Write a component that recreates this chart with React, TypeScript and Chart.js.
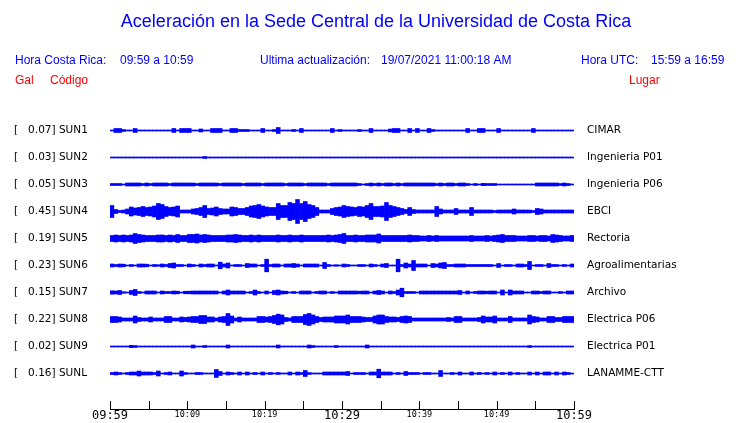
import { useEffect, useRef } from 'react';
import { Chart, registerables } from 'chart.js';

Chart.register(...registerables);

// ---- labels ----
const codes = ['SUN1', 'SUN2', 'SUN3', 'SUN4', 'SUN5', 'SUN6', 'SUN7', 'SUN8', 'SUN9', 'SUNL'];
const peaks = ['0.07', '0.03', '0.05', '0.45', '0.19', '0.23', '0.15', '0.22', '0.02', '0.16'];
const places = ['CIMAR', 'Ingenieria P01', 'Ingenieria P06', 'EBCI', 'Rectoria', 'Agroalimentarias', 'Archivo', 'Electrica P06', 'Electrica P01', 'LANAMME-CTT'];
const timeTicks = ['09:59', '', '10:09', '', '10:19', '', '10:29', '', '10:39', '', '10:49', '', '10:59'];
const titleText = 'Aceleración en la Sede Central de la Universidad de Costa Rica';
const localLabel = 'Hora Costa Rica:';
const localRange = '09:59 a 10:59';
const updateLabel = 'Ultima actualización:';
const updateValue = '19/07/2021 11:00:18 AM';
const utcLabel = 'Hora UTC:';
const utcRange = '15:59 a 16:59';

// minutes per envelope sample
const BIN_MIN = 0.5;

// ---- trace envelopes (half amplitude, display units), 120 samples = 60 min ----
const sun1 = [
  0.5, 2, 2, 1, 0.5, 0.5, 2, 0.5, 0.5, 0.5,
  0.5, 0.5, 0.5, 0.5, 0.5, 0.5, 2, 0.5, 2, 2,
  2, 0.5, 0.5, 1.5, 0.5, 0.5, 2, 2, 2, 0.5,
  0.5, 2, 2, 1, 1, 1, 0.5, 0.5, 0.5, 2,
  0.5, 0.5, 1, 3, 0.5, 0.5, 0.5, 1, 0.5, 2,
  0.5, 0.5, 0.5, 0.5, 0.5, 0.5, 0.5, 2, 0.5, 1,
  0.5, 0.5, 0.5, 0.5, 1, 0.5, 0.5, 2, 0.5, 0.5,
  0.5, 0.5, 1.5, 2, 2, 0.5, 0.5, 2, 0.5, 2,
  0.5, 0.5, 2, 1, 0.5, 0.5, 0.5, 0.5, 0.5, 0.5,
  0.5, 0.5, 2, 0.5, 0.5, 2, 2, 0.5, 0.5, 0.5,
  2, 0.5, 0.5, 0.5, 0.5, 0.5, 0.5, 0.5, 0.5, 2,
  0.5, 0.5, 0.5, 0.5, 0.5, 0.5, 0.5, 0.5, 0.5, 0.5,
];
const sun2 = [
  0.5, 0.5, 0.5, 0.5, 0.5, 0.5, 0.5, 0.5, 0.5, 0.5,
  0.5, 0.5, 0.5, 0.5, 0.5, 0.5, 0.5, 0.5, 0.5, 0.5,
  0.5, 0.5, 0.5, 0.5, 1, 0.5, 0.5, 0.5, 0.5, 0.5,
  0.5, 0.5, 0.5, 0.5, 0.5, 0.5, 0.5, 0.5, 0.5, 0.5,
  0.5, 0.5, 0.5, 0.5, 0.5, 0.5, 0.5, 0.5, 0.5, 0.5,
  0.5, 0.5, 0.5, 0.5, 0.5, 0.5, 0.5, 0.5, 0.5, 0.5,
  0.5, 0.5, 0.5, 0.5, 0.5, 0.5, 0.5, 0.5, 0.5, 0.5,
  0.5, 0.5, 0.5, 0.5, 0.5, 0.5, 0.5, 0.5, 0.5, 0.5,
  0.5, 0.5, 0.5, 0.5, 0.5, 0.5, 0.5, 0.5, 0.5, 0.5,
  0.5, 0.5, 0.5, 0.5, 0.5, 0.5, 0.5, 0.5, 0.5, 0.5,
  0.5, 0.5, 0.5, 0.5, 0.5, 0.5, 0.5, 0.5, 0.5, 0.5,
  0.5, 0.5, 0.5, 0.5, 0.5, 0.5, 0.5, 0.5, 0.5, 0.5,
];
const sun3 = [
  1, 1, 1, 0.5, 1.5, 1.5, 1.5, 1.5, 1, 1.5,
  1, 1.5, 1.5, 1.5, 1.5, 1, 1.5, 1.5, 1.5, 1.5,
  1.5, 1.5, 1, 1.5, 1.5, 1.5, 1.5, 1.5, 1, 1.5,
  1.5, 1.5, 1.5, 1.5, 1, 1.5, 1.5, 1.5, 1.5, 1,
  1.5, 1.5, 1.5, 1.5, 1.5, 1, 1.5, 1.5, 1.5, 1.5,
  1, 1.5, 1.5, 1.5, 1.5, 1.5, 1, 1.5, 1.5, 1.5,
  1.5, 1.5, 1.5, 1.5, 1, 0.5, 1, 1.5, 1, 1.5,
  1, 1.5, 1.5, 1, 1.5, 1, 1.5, 1.5, 1.5, 1.5,
  1.5, 1.5, 1.5, 1.5, 1, 1.5, 1, 1.5, 1.5, 1,
  1.5, 1.5, 1, 0.5, 1, 0.5, 1.2, 1, 1, 1,
  0.5, 0.5, 0.5, 0.5, 0.5, 0.5, 0.5, 0.5, 0.5, 0.5,
  1.5, 1.5, 1.5, 1.5, 1.5, 1.5, 1, 1.5, 1, 0.5,
];
const sun4 = [
  6, 2, 1, 1.5, 2.5, 4.5, 3.5, 4, 5, 4,
  4.5, 5.5, 8, 7, 5, 4, 4.5, 5.5, 1.5, 1.5,
  1.5, 2.5, 3, 4, 6, 3, 3.5, 4.5, 3, 2.5,
  2.5, 4.5, 4, 3, 3, 4, 5.5, 6, 7, 5.5,
  4.5, 4, 4, 8, 6, 6, 9, 8, 12, 8,
  10, 7, 6, 4, 1.5, 1.5, 1.5, 3, 4, 4.5,
  6, 5, 4.5, 4, 5, 4.5, 6, 8, 5, 5,
  5.5, 9, 6, 5, 4, 3, 2, 4, 2, 1.5,
  1.5, 1.5, 1.5, 1.5, 5, 2.5, 1.5, 1.5, 1.5, 3,
  1.5, 1.5, 1.5, 4, 1.5, 1.5, 1.5, 1.5, 1.5, 1,
  1.5, 1.5, 1.5, 1.5, 2.5, 1.5, 1.5, 1.5, 1.5, 1,
  3, 2.5, 1.5, 1.5, 1.5, 1.5, 1.5, 1.5, 1.5, 1.5,
];
const sun5 = [
  3, 3.5, 3, 3.5, 3, 3.5, 5, 4, 3.5, 3,
  3, 3, 3.5, 3.5, 3, 3.5, 3, 4, 3, 3,
  4, 4, 4.5, 3.5, 4, 3.5, 3, 3, 3, 3,
  3.5, 3.5, 4, 3.5, 3, 3, 3.5, 3, 3.5, 3,
  3, 3, 3, 3.5, 3, 3, 3.5, 3, 3, 3.5,
  3, 3, 3, 3, 3, 3, 3.5, 3, 3.5, 4,
  5, 3, 3, 3.5, 3, 3, 3.5, 3.5, 3.5, 4.5,
  3, 3, 3, 3, 3, 3, 3, 3.5, 3, 3,
  2.5, 2.5, 3, 2.5, 3, 2.5, 2.5, 2.5, 2.5, 2.5,
  2.5, 2.5, 2.5, 3, 2.5, 2.5, 2.5, 3, 2.5, 3,
  3.5, 4, 3, 3, 3, 2.5, 2.5, 2.5, 3, 3,
  2.5, 3, 3, 2.5, 4, 3.5, 3, 2.5, 2.5, 3,
];
const sun6 = [
  1.5, 1, 1.5, 1.3, 0.5, 1, 0.5, 1.5, 1.5, 1.3,
  0.5, 1, 0.8, 1.5, 1, 2, 2.5, 1, 1, 0.5,
  1.5, 1, 0.5, 1.5, 1, 1.5, 1.5, 0.5, 3.3, 1.5,
  2.5, 0.5, 1, 1, 0.5, 2, 1.5, 1.5, 0.5, 1,
  6.3, 1, 1.5, 1.5, 0.5, 1.5, 1.5, 2, 1.5, 0.5,
  1.5, 1.5, 1.5, 1.5, 0.5, 3, 1, 0.5, 0.8, 0.5,
  1.5, 1, 0.5, 0.5, 1, 1, 0.5, 1.5, 1, 0.5,
  1.5, 2, 0.5, 0.5, 6.3, 1, 2.5, 1.5, 5, 1.5,
  1.5, 1.5, 0.5, 2, 1.5, 2.5, 3, 1, 1, 1.5,
  1.5, 1.5, 1, 1, 1, 1, 1, 1, 1, 0.5,
  2, 0.5, 1, 1, 0.5, 1.5, 1.5, 1, 4, 0.5,
  1, 1, 0.5, 2, 1, 1, 0.5, 1, 0.5, 1.5,
];
const sun7 = [
  1.7, 1.5, 2, 0.8, 0.5, 2, 3, 1, 0.5, 1.5,
  1.5, 1.5, 0.5, 1.5, 1, 1, 1.5, 1.3, 0.5, 1.3,
  1.3, 1.5, 1.5, 1.5, 1.5, 1.5, 1.5, 1.5, 0.5, 1.5,
  2.5, 1.5, 1.5, 1.5, 1.5, 0.5, 1, 2.5, 1, 0.5,
  1.5, 0.5, 2, 2.5, 1.5, 1.3, 0.5, 1, 0.5, 1.5,
  1.5, 1.5, 0.5, 1, 1.5, 1.5, 0.5, 1, 0.5, 1.5,
  1.5, 1.5, 1.5, 1.5, 1.3, 1.5, 1.5, 0.5, 1.5, 2,
  1.5, 0.5, 1.5, 1, 2.5, 4.3, 1, 1, 1, 0.5,
  1.5, 1.5, 1.5, 1.5, 1.5, 1.5, 1.5, 1.5, 1.5, 1.5,
  2, 0.5, 1.5, 0.5, 1, 1.5, 1.5, 1.3, 1.5, 1.5,
  0.5, 2.5, 0.5, 2.5, 1.5, 1.5, 1.5, 0.5, 0.5, 1.5,
  1.5, 1, 1.5, 1.5, 0.5, 0.5, 1, 0.5, 1.5, 1.5,
];
const sun8 = [
  3, 3, 2.5, 1.5, 1.5, 1.5, 3.5, 2, 1.5, 1.5,
  2.5, 1.5, 1.5, 1.5, 3, 3, 1.5, 1.5, 2.5, 2,
  2.5, 3, 3, 4, 4, 2.5, 2.5, 1.5, 2.5, 3,
  6, 3.5, 1.5, 2.5, 1.5, 1.5, 1.5, 1.5, 3, 3,
  2.5, 3, 4, 5.3, 4.5, 2, 1.5, 3, 3, 3,
  5, 6, 4.5, 3, 2, 2.5, 2.5, 2.5, 3.5, 3.5,
  3.5, 4.5, 3, 3, 3, 2.5, 2, 2, 3.5, 4.5,
  4.5, 3, 2.5, 2.5, 2, 3, 3.5, 3, 1.5, 1.5,
  1.5, 1.5, 1.5, 1.5, 1.5, 1.5, 1.5, 2, 1.5, 3,
  3, 1.5, 1.5, 1.5, 1.5, 2, 3.5, 2.5, 2.5, 3.5,
  1.5, 1.5, 1.5, 3, 1.5, 1.5, 1.5, 1.5, 4.5, 3,
  2.5, 1.5, 1.5, 3, 3, 2, 2, 3, 3, 3,
];
const sun9 = [
  0.5, 0.5, 0.5, 0.5, 0.5, 1.2, 1, 0.5, 0.5, 0.5,
  0.5, 0.5, 0.5, 0.5, 0.5, 0.5, 0.5, 0.5, 0.5, 0.5,
  0.5, 1.5, 0.5, 0.5, 1, 0.5, 0.5, 0.5, 0.5, 0.5,
  1.5, 0.5, 0.5, 0.5, 0.5, 0.5, 0.5, 0.5, 0.5, 0.5,
  0.5, 0.5, 0.5, 1.5, 0.5, 0.5, 0.5, 0.5, 0.5, 0.5,
  0.5, 1.5, 1, 0.5, 0.5, 0.5, 0.5, 0.5, 1, 0.5,
  0.5, 0.5, 0.5, 0.5, 0.5, 0.5, 1.5, 0.5, 0.5, 0.5,
  0.5, 0.5, 0.5, 0.5, 0.5, 0.5, 0.5, 0.5, 0.5, 0.5,
  0.5, 0.5, 0.5, 0.5, 0.5, 0.5, 0.5, 0.5, 0.5, 0.5,
  0.5, 0.5, 0.5, 0.5, 0.5, 0.5, 0.5, 0.5, 0.5, 0.5,
  0.5, 0.5, 0.5, 0.5, 0.5, 0.5, 0.5, 0.5, 1, 0.5,
  0.5, 0.5, 0.5, 0.5, 0.5, 0.5, 0.5, 0.5, 0.5, 0.5,
];
const sunL = [
  1, 1.5, 1, 0.5, 1, 1.5, 1.5, 2.5, 1.5, 1.5,
  1.5, 1, 2.5, 0.5, 1, 1.5, 0.5, 0.5, 2.5, 1,
  0.5, 0.5, 1, 1, 0.5, 0.5, 0.5, 4, 2, 0.5,
  1.5, 1, 0.5, 1.5, 0.5, 1.5, 0.5, 1, 0.5, 1.5,
  0.5, 1, 0.5, 1, 0.5, 0.5, 1.5, 0.5, 1.5, 1,
  3, 1, 0.5, 0.5, 0.5, 1.5, 1.5, 1.5, 1.5, 1.5,
  1.5, 2, 0.5, 1, 1, 1, 0.5, 1.5, 1.5, 4.3,
  1.5, 1.5, 1.5, 0.5, 1, 0.5, 2, 1, 1, 1,
  0.5, 1, 1, 0.5, 0.5, 3, 0.5, 0.5, 1, 0.5,
  1.5, 0.5, 0.5, 1.5, 0.5, 1, 0.5, 1, 0.5, 1.5,
  0.5, 1, 0.5, 1.5, 0.5, 1, 0.5, 0.5, 1.5, 0.5,
  1.5, 0.5, 1.5, 1.5, 0.5, 1.5, 0.5, 1.5, 1, 0.5,
];
const traces = [sun1, sun2, sun3, sun4, sun5, sun6, sun7, sun8, sun9, sunL];

// ---- layout constants (pixels) ----
const W = 740;
const H = 423;
const AREA_TOP = 116;
const AREA_LEFT = 110;
const AREA_RIGHT = 574;
const AXIS_H = 14;
const FIRST_ROW = 14.5;
const ROW_GAP = 27;
const BLUE = '#0000ff';
const RED = '#ff0000';

export default function App() {
  const ref = useRef<HTMLCanvasElement | null>(null);

  useEffect(() => {
    const canvas = ref.current;
    if (!canvas) return;
    const span = H - AXIS_H - AREA_TOP;
    const centers = codes.map((_, k) => FIRST_ROW + ROW_GAP * k);

    const datasets = traces.map((amp, k) => ({
      label: codes[k],
      data: amp.map((a, i) => ({ x: (i + 0.5) * BIN_MIN, y: [centers[k] - a, centers[k] + a] })),
      backgroundColor: BLUE,
      borderWidth: 0,
      barPercentage: 1,
      categoryPercentage: 1,
      grouped: false,
      yAxisID: 'y',
    }));

    const textPlugin = {
      id: 'seismoText',
      afterDraw(chart: any) {
        const ctx = chart.ctx as CanvasRenderingContext2D;
        ctx.save();
        ctx.textBaseline = 'middle';
        ctx.fillStyle = BLUE;
        ctx.textAlign = 'center';
        ctx.font = '18px "Liberation Sans", Arial, sans-serif';
        ctx.fillText(titleText, 376, 22);
        ctx.textAlign = 'left';
        ctx.font = '12px "Liberation Sans", Arial, sans-serif';
        ctx.fillText(localLabel, 15, 61);
        ctx.fillText(localRange, 120, 61);
        ctx.fillText(updateLabel, 260, 61);
        ctx.fillText(updateValue, 381, 61);
        ctx.fillText(utcLabel, 581, 61);
        ctx.fillText(utcRange, 651, 61);
        ctx.fillStyle = RED;
        ctx.fillText('Gal', 15, 81);
        ctx.fillText('Código', 50, 81);
        ctx.fillText('Lugar', 629, 81);
        // x tick marks pointing up from the axis line
        const xs = chart.scales.x;
        ctx.strokeStyle = '#000';
        ctx.lineWidth = 1;
        xs.ticks.forEach((t: any) => {
          const px = Math.round(xs.getPixelForValue(t.value)) + 0.5;
          ctx.beginPath();
          ctx.moveTo(px, xs.top - 8);
          ctx.lineTo(px, xs.top + 0.5);
          ctx.stroke();
        });
        ctx.restore();
      },
    };

    const rowTicks = (s: any) => {
      s.ticks = centers.map((v) => ({ value: v }));
    };

    const chart = new Chart(canvas, {
      type: 'bar',
      data: { datasets: datasets as any },
      options: {
        responsive: false,
        animation: false,
        devicePixelRatio: 1,
        layout: { padding: { top: AREA_TOP, left: 14, right: 0, bottom: 0 } },
        plugins: { legend: { display: false }, tooltip: { enabled: false }, title: { display: false } },
        scales: {
          x: {
            type: 'linear',
            position: 'bottom',
            offset: false,
            min: 0,
            max: 60,
            afterFit: (s: any) => { s.height = AXIS_H; s.paddingLeft = 0; s.paddingRight = 0; },
            afterBuildTicks: (s: any) => { s.ticks = timeTicks.map((_, i) => ({ value: i * 5 })); },
            ticks: {
              autoSkip: false,
              maxRotation: 0,
              minRotation: 0,
              padding: 0,
              color: '#000',
              callback: (_v: any, i: number) => timeTicks[i],
              font: (c: any) => (c.index % 6 === 0
                ? { family: '"DejaVu Sans Mono", monospace', size: 12, lineHeight: '14px' }
                : { family: '"DejaVu Sans Mono", monospace', size: 8.5, lineHeight: '12px' }) as any,
            },
            grid: { display: false, drawTicks: false, offset: false },
            border: { display: true, color: '#000', width: 1 },
          },
          y: {
            type: 'linear',
            position: 'left',
            min: 0,
            max: span,
            reverse: true,
            afterFit: (s: any) => { s.width = AREA_LEFT - 14; s.paddingTop = 0; s.paddingBottom = 0; },
            afterBuildTicks: rowTicks,
            ticks: {
              autoSkip: false,
              crossAlign: 'far',
              padding: 0,
              color: '#000',
              font: { family: '"DejaVu Sans", sans-serif', size: 10.5, lineHeight: '1px' },
              callback: (_v: any, i: number) => `[   ${peaks[i]}] ${codes[i]}`,
            },
            grid: { display: false, drawTicks: false },
            border: { display: false },
          },
          y2: {
            type: 'linear',
            position: 'right',
            min: 0,
            max: span,
            reverse: true,
            afterFit: (s: any) => { s.width = W - AREA_RIGHT; s.paddingTop = 0; s.paddingBottom = 0; },
            afterBuildTicks: rowTicks,
            ticks: {
              autoSkip: false,
              crossAlign: 'near',
              padding: 13,
              color: '#000',
              font: { family: '"DejaVu Sans", sans-serif', size: 10.5, lineHeight: '1px' },
              callback: (_v: any, i: number) => places[i],
            },
            grid: { display: false, drawTicks: false },
            border: { display: false },
          },
        },
      } as any,
      plugins: [textPlugin],
    });
    return () => chart.destroy();
  }, []);

  return (
    <div style={{ position: 'absolute', left: 0, top: 0, width: W, height: H, background: '#fff' }}>
      <canvas ref={ref} width={W} height={H} style={{ display: 'block' }} />
    </div>
  );
}
